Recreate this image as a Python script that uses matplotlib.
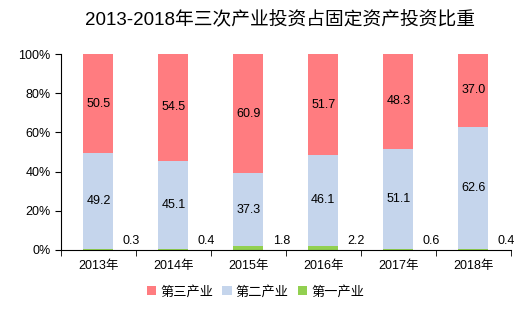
import matplotlib.pyplot as plt
import numpy as np

plt.rcParams['font.family'] = ['Liberation Sans', 'Noto Sans CJK SC']

years = ['2013年', '2014年', '2015年', '2016年', '2017年', '2018年']
primary = [0.3, 0.4, 1.8, 2.2, 0.6, 0.4]
secondary = [49.2, 45.1, 37.3, 46.1, 51.1, 62.6]
tertiary = [50.5, 54.5, 60.9, 51.7, 48.3, 37.0]

c1, c2, c3 = '#92D050', '#C5D5EC', '#FF7C80'

fig = plt.figure(figsize=(5.16, 3.22), dpi=100)
ax = fig.add_axes([0.118, 0.224, 0.872, 0.608])

x = np.arange(len(years))
p = np.array(primary)
s = np.array(secondary)
t = np.array(tertiary)
w = 0.4

ax.bar(x, p, w, color=c1, label='第一产业')
ax.bar(x, s, w, bottom=p, color=c2, label='第二产业')
ax.bar(x, t, w, bottom=p + s, color=c3, label='第三产业')

for i in range(len(years)):
    ax.text(x[i], p[i] + s[i] / 2, f'{s[i]:.1f}', ha='center', va='center', fontsize=9)
    ax.text(x[i], p[i] + s[i] + t[i] / 2, f'{t[i]:.1f}', ha='center', va='center', fontsize=9)
    ax.text(x[i] + 0.44, 4.5, f'{p[i]:.1f}', ha='center', va='center', fontsize=9)

ax.set_xlim(-0.5, len(years) - 0.5)
ax.set_ylim(0, 100)
ax.set_yticks(range(0, 101, 20))
ax.set_yticklabels([f'{v}%' for v in range(0, 101, 20)], fontsize=9)
ax.set_xticks(x)
ax.set_xticklabels(years, fontsize=9)
ax.set_xticks(np.arange(-0.5, len(years)), minor=True)
ax.tick_params(axis='x', which='major', length=0, pad=7)
ax.tick_params(axis='x', which='minor', length=4, direction='out')
ax.tick_params(axis='y', length=4, direction='out')

ax.spines['top'].set_visible(False)
ax.spines['right'].set_visible(False)

fig.text(0.543, 0.938, '2013-2018年三次产业投资占固定资产投资比重', fontsize=13.5,
         ha='center', va='center')

h, l = ax.get_legend_handles_labels()
fig.legend(h[::-1], l[::-1], loc='center', bbox_to_anchor=(0.495, 0.093), ncol=3,
           frameon=False, fontsize=9.5, handlelength=0.7, handleheight=0.7,
           handletextpad=0.3, columnspacing=0.7)

fig.savefig('out.png', dpi=100)
